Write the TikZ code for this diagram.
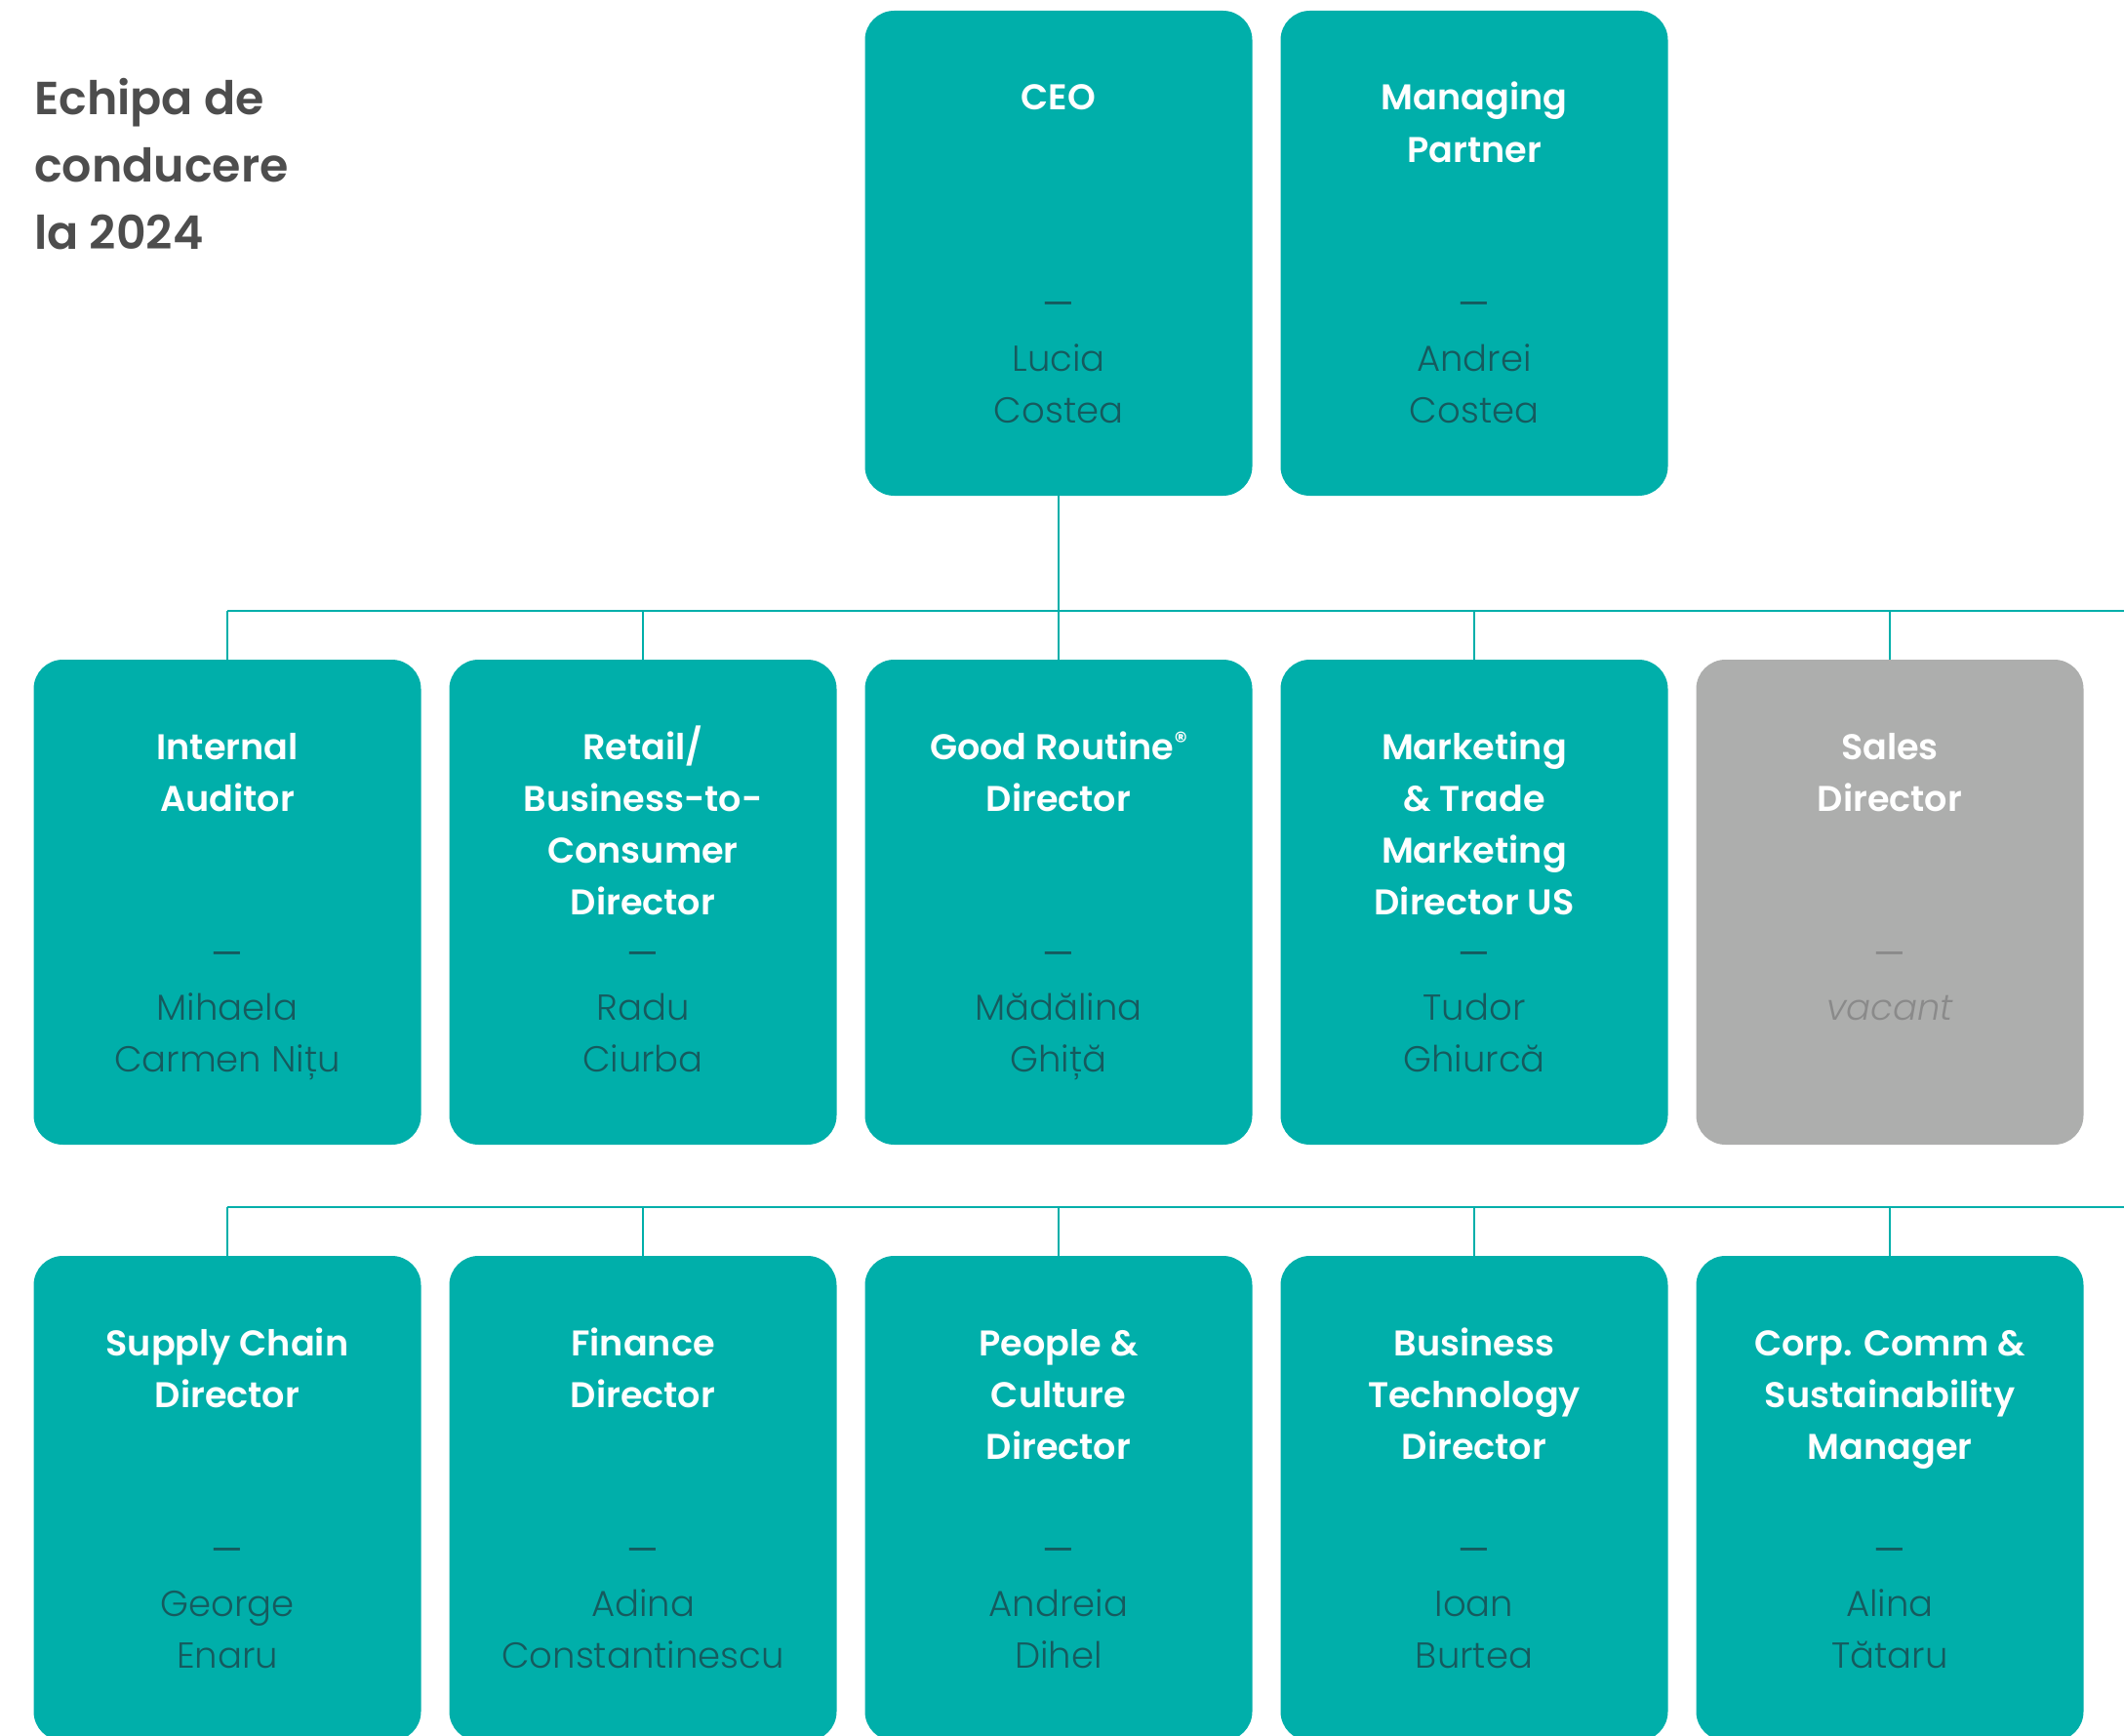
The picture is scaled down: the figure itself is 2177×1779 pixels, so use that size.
\documentclass[tikz,border=0pt]{standalone}
\usepackage{fontspec}
\setmainfont{Poppins}
\IfFontExistsTF{Poppins SemiBold}{\newfontfamily\ttlfont{Poppins SemiBold}}{\newcommand\ttlfont{\bfseries}}
\IfFontExistsTF{Poppins Light}{\newfontfamily\namefont{Poppins Light}}{\newcommand\namefont{}}
\IfFontExistsTF{Poppins Light Italic}{\newfontfamily\vacfont{Poppins Light Italic}}{\newcommand\vacfont{\itshape}}
\definecolor{teal1}{HTML}{00AFAA}
\definecolor{grayb}{HTML}{ADAEAD}
\definecolor{namec}{HTML}{165A5E}
\definecolor{titlec}{HTML}{4D4D4D}
\definecolor{vacc}{HTML}{8A8A8A}
\tikzset{
  card/.style={rectangle, rounded corners=30pt, fill=teal1, minimum width=397pt, minimum height=497pt, inner sep=0pt, outer sep=0pt},
  vcard/.style={card, fill=grayb},
  ttl/.style={inner sep=0pt, text=white, font=\ttlfont\fontsize{36.6}{53.3}\selectfont},
  nm/.style={inner sep=0pt, text=namec, font=\namefont\fontsize{37}{53.3}\selectfont},
  vnm/.style={inner sep=0pt, text=vacc, font=\vacfont\fontsize{37}{53.3}\selectfont},
  dsh/.style={inner sep=0pt, text=namec, font=\rmfamily\fontsize{37}{53.3}\selectfont},
  vdsh/.style={dsh, text=vacc},
  conn/.style={draw=teal1, line width=2.8pt},
  heading/.style={inner sep=0pt, text=titlec, font=\ttlfont\fontsize{47.5}{69}\selectfont},
}
\newcommand\orgbox[8]{%
  \node[#4, anchor=north] (#1) at (#2,-#3) {};
  \node[ttl, anchor=base] (#1t) at ([yshift=-102pt]#1.north) {\begin{tabular}[t]{@{}c@{}}#5\end{tabular}};
  \node[#7, anchor=base] (#1d) at ([yshift=-314pt]#1.north) {—};
  \node[#6, anchor=base] (#1n) at ([yshift=-369pt]#1.north) {\begin{tabular}[t]{@{}c@{}}#8\end{tabular}};
}
\begin{document}
\begin{tikzpicture}[x=1pt,y=1pt]
\useasboundingbox (0,0) rectangle (2177,-1779);
\clip (0,0) rectangle (2177,-1779);
\node[heading, anchor=base west] (head) at (35,-118) {\begin{tabular}[t]{@{}l@{}}Echipa de\\conducere\\la 2024\end{tabular}};
% row 1
\orgbox{ceo}{1085}{11}{card}{CEO}{nm}{dsh}{Lucia\\Costea}
\orgbox{mp}{1511}{11}{card}{Managing\\Partner}{nm}{dsh}{Andrei\\Costea}
% row 2
\orgbox{ia}{233}{676}{card}{Internal\\Auditor}{nm}{dsh}{Mihaela\\Carmen Nițu}
\orgbox{rb}{659}{676}{card}{Retail/\\Business-to-\\Consumer\\Director}{nm}{dsh}{Radu\\Ciurba}
\orgbox{gr}{1085}{676}{card}{Good Routine{\fontsize{26}{26}\selectfont\raisebox{10pt}{®}}\\Director}{nm}{dsh}{Mădălina\\Ghiță}
\orgbox{mk}{1511}{676}{card}{Marketing\\\& Trade\\Marketing\\Director US}{nm}{dsh}{Tudor\\Ghiurcă}
\orgbox{sd}{1937}{676}{vcard}{Sales\\Director}{vnm}{vdsh}{vacant}
% row 3
\orgbox{sc}{233}{1287}{card}{Supply Chain\\Director}{nm}{dsh}{George\\Enaru}
\orgbox{fd}{659}{1287}{card}{Finance\\Director}{nm}{dsh}{Adina\\Constantinescu}
\orgbox{pc}{1085}{1287}{card}{People \&\\Culture\\Director}{nm}{dsh}{Andreia\\Dihel}
\orgbox{bt}{1511}{1287}{card}{Business\\Technology\\Director}{nm}{dsh}{Ioan\\Burtea}
\orgbox{cc}{1937}{1287}{card}{Corp. Comm \&\\Sustainability\\Manager}{nm}{dsh}{Alina\\Tătaru}
% connectors
\coordinate (bus1) at (0,-626);
\coordinate (bus1e) at (2177,-626);
\coordinate (bus2) at (0,-1237);
\coordinate (bus2e) at (2177,-1237);
\draw[conn] (ceo.south) -- (ceo.south |- bus1);
\draw[conn] (ia.north |- bus1) -- (bus1e);
\foreach \n in {ia,rb,gr,mk,sd} \draw[conn] (\n.north |- bus1) -- (\n.north);
\draw[conn] (sc.north |- bus2) -- (bus2e);
\foreach \n in {sc,fd,pc,bt,cc} \draw[conn] (\n.north |- bus2) -- (\n.north);
\end{tikzpicture}
\end{document}
